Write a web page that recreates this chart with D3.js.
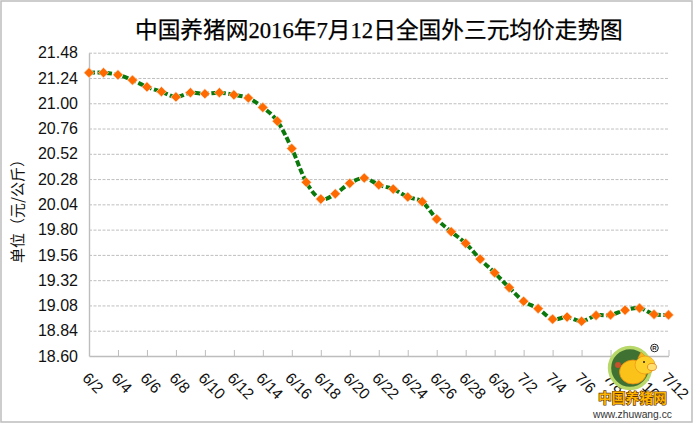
<!DOCTYPE html>
<html><head><meta charset="utf-8">
<script src="https://cdn.jsdelivr.net/npm/d3@7/dist/d3.min.js"></script>
<style>html,body{margin:0;padding:0;background:#fff}svg{display:block}</style></head>
<body><svg id="c" width="693" height="423"></svg>
<script>
const titleText = "中国养猪网2016年7月12日全国外三元均价走势图";
const yTitle = "单位（元/公斤）";
const dates = ["6/2","6/3","6/4","6/5","6/6","6/7","6/8","6/9","6/10","6/11","6/12","6/13","6/14","6/15","6/16","6/17","6/18","6/19","6/20","6/21","6/22","6/23","6/24","6/25","6/26","6/27","6/28","6/29","6/30","7/1","7/2","7/3","7/4","7/5","7/6","7/7","7/8","7/9","7/10","7/11","7/12"];
const prices = [21.29,21.29,21.27,21.22,21.155,21.11,21.06,21.10,21.09,21.10,21.08,21.05,20.96,20.83,20.57,20.25,20.09,20.14,20.24,20.29,20.225,20.185,20.11,20.065,19.90,19.78,19.67,19.52,19.39,19.25,19.12,19.05,18.95,18.97,18.93,18.985,18.99,19.035,19.055,18.995,18.99];
const yTicks = [21.48,21.24,21.00,20.76,20.52,20.28,20.04,19.80,19.56,19.32,19.08,18.84,18.60];
const xTicks = ["6/2","6/4","6/6","6/8","6/10","6/12","6/14","6/16","6/18","6/20","6/22","6/24","6/26","6/28","6/30","7/2","7/4","7/6","7/8","7/10","7/12"];

const svg = d3.select("#c");
const x = d3.scalePoint().domain(dates).range([89, 668.5]);
const y = d3.scaleLinear().domain([18.60, 21.48]).range([356, 52.7]);
const sans = '"Liberation Sans",Arial,sans-serif';

svg.append("rect").attr("x",1).attr("y",1).attr("width",691).attr("height",421)
  .attr("fill","#fff").attr("stroke","#bdbdbd").attr("stroke-width",1.5);

svg.append("text").attr("x",135).attr("y",38).attr("fill","#000")
  .attr("stroke","#000").attr("stroke-width",0.25)
  .attr("font-family",'"Liberation Serif","Noto Sans CJK SC",serif')
  .attr("font-size",22.7).text(titleText);

// grid + y axis
const gy = svg.append("g").attr("transform","translate(89,0)")
  .call(d3.axisLeft(y).tickValues(yTicks).tickSize(0).tickPadding(11).tickFormat(d=>d.toFixed(2)));
gy.select(".domain").attr("stroke","#bdbdbd").attr("stroke-width",1.4);
gy.selectAll("text").attr("font-family",sans).attr("font-size",16).attr("fill","#111");
gy.selectAll(".tick").filter(d=>d!==18.60).append("line")
  .attr("x1",0).attr("x2",579.5).attr("stroke","#bfbfbf").attr("stroke-width",1).attr("stroke-dasharray","3 1.5");

// x axis
const gx = svg.append("g").attr("transform","translate(0,356)")
  .call(d3.axisBottom(x).tickValues(xTicks).tickSize(-6).tickSizeOuter(0).tickFormat(""));
gx.select(".domain").attr("stroke","#bdbdbd").attr("stroke-width",1.4);
gx.selectAll(".tick line").attr("stroke","#bdbdbd").attr("stroke-width",1);
gx.selectAll(".tick").append("text")
  .attr("transform","translate(-8,23) rotate(45)")
  .attr("x",0).attr("y",0).attr("dy",0).attr("text-anchor","start")
  .attr("font-family",sans).attr("font-size",15.5).attr("fill","#111").text(d=>d);

svg.append("text").attr("transform","translate(23,207.5) rotate(-90)")
  .attr("text-anchor","middle").attr("font-family",'"Noto Sans CJK SC",sans-serif')
  .attr("font-size",15).attr("fill","#111").text(yTitle);

// series
const line = d3.line().x((d,i)=>x(dates[i])).y(d=>y(d)).curve(d3.curveCardinal.tension(0));
svg.append("path").datum(prices).attr("d",line).attr("fill","none")
  .attr("stroke","#0a780a").attr("stroke-width",4).attr("stroke-dasharray","6 2.5");
const sym = d3.symbol().type(d3.symbolSquare).size(52);
svg.append("g").selectAll("path").data(prices).join("path")
  .attr("d",sym).attr("transform",(d,i)=>`translate(${x(dates[i])},${y(d)}) rotate(45)`)
  .attr("fill","#ff6a00").attr("stroke","#ffe3cf").attr("stroke-width",0.6);

// watermark logo
const logo = svg.append("g");
logo.append("circle").attr("cx",630).attr("cy",368).attr("r",20.5).attr("fill","#3f7232")
  .attr("stroke","#b9d86a").attr("stroke-width",3.4);
logo.append("ellipse").attr("cx",633).attr("cy",372).attr("rx",13.5).attr("ry",12).attr("fill","#fbc21a").attr("stroke","#e88c10").attr("stroke-width",.8);
logo.append("path").attr("d","M638,358 L641,352 L646,357 Z").attr("fill","#f9b218").attr("stroke","#e88c10").attr("stroke-width",.5);
logo.append("ellipse").attr("cx",645).attr("cy",365).attr("rx",10).attr("ry",9).attr("fill","#fdd02c").attr("stroke","#e88c10").attr("stroke-width",.6);
logo.append("ellipse").attr("cx",652).attr("cy",367).attr("rx",4.5).attr("ry",3.6).attr("fill","#ffdf70").attr("stroke","#e07a10").attr("stroke-width",.7);
logo.append("circle").attr("cx",644).attr("cy",362).attr("r",1).attr("fill","#222");
logo.append("circle").attr("cx",618).attr("cy",365).attr("r",3).attr("fill","#c8502a");
logo.append("circle").attr("cx",654.5).attr("cy",348).attr("r",3.8).attr("fill","#fff").attr("stroke","#222").attr("stroke-width",1);
logo.append("text").attr("x",654.5).attr("y",350.2).attr("text-anchor","middle").attr("font-family",sans)
  .attr("font-size",6).attr("font-weight","bold").attr("fill","#222").text("R");
logo.append("rect").attr("x",596).attr("y",392).attr("width",74).attr("height",28).attr("fill","#fff").attr("opacity",.8);
logo.append("text").attr("x",632.5).attr("y",402.5).attr("text-anchor","middle")
  .attr("font-family",'"Noto Sans CJK SC",sans-serif').attr("font-weight","bold").attr("font-size",13.8)
  .attr("fill","#ffb400").attr("stroke","#5a3000").attr("stroke-width",1.2).attr("paint-order","stroke").text("中国养猪网");
logo.append("text").attr("x",632.5).attr("y",418).attr("text-anchor","middle")
  .attr("font-family",sans).attr("font-size",10.3).attr("fill","#333").text("www.zhuwang.cc");
</script></body></html>
